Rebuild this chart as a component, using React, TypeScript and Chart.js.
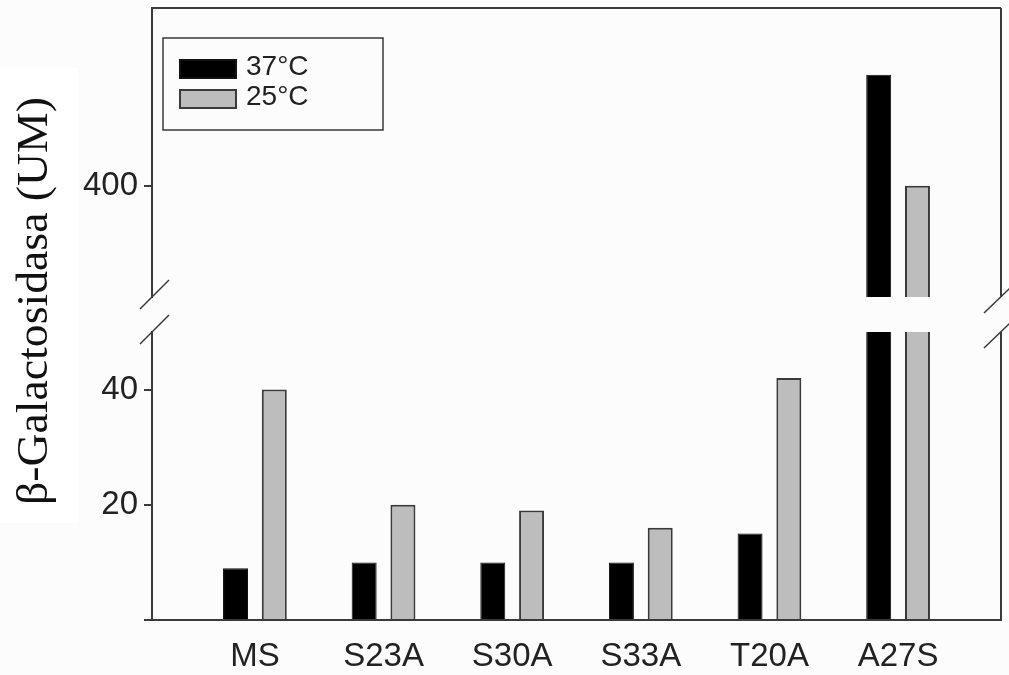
import React, { useEffect, useRef } from 'react';
import { Chart, registerables } from 'chart.js';

Chart.register(...registerables);

// ---- data ----
const categories = ['MS', 'S23A', 'S30A', 'S33A', 'T20A', 'A27S'];
const seriesNames = ['37°C', '25°C'];
const values37 = [9, 10, 10, 10, 15, 600];
const values25 = [40, 20, 19, 16, 42, 400];
const lowerTicks = [0, 20, 40];
const upperTicks = [400];
const lowerRange = [0, 50];
const upperRange = [200, 720];
const yTitle = 'β-Galactosidasa (UM)';

// ---- styles ----
const fills = ['#000000', '#bdbdbd'];
const strokes = ['#111111', '#3a3a3a'];
const axisColor = '#3a3a3a';
const textColor = '#222222';
const fontSans = '"Liberation Sans", Arial, Helvetica, sans-serif';
const fontSerif = '"Liberation Serif", "Times New Roman", serif';

export default function App() {
  const ref = useRef<HTMLCanvasElement | null>(null);

  useEffect(() => {
    document.body.style.margin = '0';
    const canvas = ref.current;
    if (!canvas) return;

    const lowPoints = (vals: number[]) => vals.map((y, x) => ({ x, y }));
    const highPoints = (vals: number[]) =>
      vals.map((y, x) => ({ x, y: y > lowerRange[1] ? y : null }));

    const fixY = (scale: any) => {
      scale.width = 70;
      scale.paddingTop = 0;
      scale.paddingBottom = 0;
    };

    const bgPlugin = {
      id: 'bg',
      beforeDraw(chart: any) {
        const { ctx, width, height } = chart;
        ctx.save();
        ctx.fillStyle = '#fcfcfc';
        ctx.fillRect(0, 0, width, height);
        ctx.fillStyle = '#ffffff';
        ctx.fillRect(0, 68, 78, 455);
        ctx.restore();
      },
    };

    const titlePlugin = {
      id: 'ytitle',
      afterDraw(chart: any) {
        const { ctx } = chart;
        ctx.save();
        ctx.font = `44px ${fontSerif}`;
        ctx.fillStyle = '#111';
        ctx.translate(47, 301);
        ctx.rotate(-Math.PI / 2);
        ctx.textAlign = 'center';
        ctx.textBaseline = 'alphabetic';
        const w = ctx.measureText(yTitle).width;
        ctx.scale(408 / w, 1);
        ctx.fillText(yTitle, 0, 0);
        ctx.restore();
      },
    };

    const legendPlugin = {
      id: 'boxLegend',
      afterDraw(chart: any) {
        const { ctx, chartArea: ca } = chart;
        const x0 = ca.left + 11;
        const y0 = ca.top + 30;
        ctx.save();
        ctx.strokeStyle = axisColor;
        ctx.lineWidth = 1.5;
        ctx.strokeRect(x0, y0, 220, 92);
        seriesNames.forEach((name, i) => {
          const sy = y0 + 22 + i * 30;
          ctx.fillStyle = fills[i];
          ctx.fillRect(x0 + 17, sy, 56, 18);
          ctx.strokeStyle = strokes[i];
          ctx.lineWidth = 2;
          ctx.strokeRect(x0 + 17, sy, 56, 18);
          ctx.font = `28px ${fontSans}`;
          ctx.fillStyle = textColor;
          ctx.textBaseline = 'alphabetic';
          ctx.textAlign = 'left';
          ctx.fillText(name, x0 + 83, sy + 15);
        });
        ctx.restore();
      },
    };

    const framePlugin = {
      id: 'frame',
      afterDraw(chart: any) {
        const { ctx, chartArea: ca, scales } = chart;
        const hi = scales.yHigh;
        const lo = scales.yLow;
        ctx.save();
        ctx.strokeStyle = axisColor;
        ctx.lineWidth = 2;
        ctx.beginPath();
        ctx.moveTo(ca.left, ca.top);
        ctx.lineTo(ca.right, ca.top);
        ctx.moveTo(ca.right, ca.top);
        ctx.lineTo(ca.right, hi.bottom);
        ctx.moveTo(ca.right, lo.top);
        ctx.lineTo(ca.right, ca.bottom);
        ctx.stroke();
        ctx.lineWidth = 1.5;
        ctx.beginPath();
        for (const y of [hi.bottom, lo.top]) {
          ctx.moveTo(ca.left - 12, y + 12);
          ctx.lineTo(ca.left + 17, y - 17);
          ctx.moveTo(ca.right - 17, y + 16);
          ctx.lineTo(ca.right + 9, y - 9);
        }
        ctx.stroke();
        ctx.restore();
      },
    };

    const tickFont = { family: fontSans, size: 33 };
    const yGrid = {
      display: true,
      drawOnChartArea: false,
      drawTicks: true,
      tickLength: 8,
      color: axisColor,
      lineWidth: 2,
    };
    const yBorder = { display: true, color: axisColor, width: 2 };

    const barStyle = (i: number) => ({
      backgroundColor: fills[i],
      borderColor: strokes[i],
      borderWidth: i === 0 ? 1 : 2,
      categoryPercentage: 0.603,
      barPercentage: 0.644,
    });

    const chart = new Chart(canvas, {
      type: 'bar',
      data: {
        datasets: [
          { label: seriesNames[0], data: lowPoints(values37), yAxisID: 'yLow', stack: 's0', ...barStyle(0) },
          { label: seriesNames[1], data: lowPoints(values25), yAxisID: 'yLow', stack: 's1', ...barStyle(1) },
          { label: seriesNames[0], data: highPoints(values37), yAxisID: 'yHigh', stack: 's0', ...barStyle(0) },
          { label: seriesNames[1], data: highPoints(values25), yAxisID: 'yHigh', stack: 's1', ...barStyle(1) },
        ] as any,
      },
      options: {
        responsive: false,
        animation: false,
        devicePixelRatio: 1,
        layout: { padding: { left: 82, top: 8, right: 8, bottom: 0 } },
        plugins: {
          legend: { display: false },
          tooltip: { enabled: false },
          title: { display: false },
        },
        scales: {
          x: {
            type: 'linear',
            position: 'bottom',
            min: -0.8,
            max: 5.8,
            offset: false,
            grid: { display: false, drawTicks: false, offset: false },
            border: { display: true, color: axisColor, width: 2 },
            afterBuildTicks: (s: any) => {
              s.ticks = categories.map((_, i) => ({ value: i }));
            },
            afterFit: (s: any) => {
              s.height = 55;
              s.paddingLeft = 0;
              s.paddingRight = 0;
            },
            ticks: {
              callback: (v: any) => categories[v] ?? '',
              font: tickFont,
              color: textColor,
              padding: 17,
              maxRotation: 0,
              autoSkip: false,
            },
          },
          yHigh: {
            type: 'linear',
            position: 'left',
            stack: 'ybreak',
            stackWeight: 289,
            weight: 3,
            min: upperRange[0],
            max: upperRange[1],
            afterBuildTicks: (s: any) => {
              s.ticks = upperTicks.map((value) => ({ value }));
            },
            afterFit: fixY,
            ticks: { font: tickFont, color: textColor, padding: 6 },
            grid: yGrid,
            border: yBorder,
          },
          yGap: {
            type: 'linear',
            position: 'left',
            stack: 'ybreak',
            stackWeight: 35,
            weight: 2,
            min: 0,
            max: 1,
            afterFit: fixY,
            ticks: { display: false },
            grid: { display: false, drawTicks: false },
            border: { display: false },
          },
          yLow: {
            type: 'linear',
            position: 'left',
            stack: 'ybreak',
            stackWeight: 288,
            weight: 1,
            min: lowerRange[0],
            max: lowerRange[1],
            afterBuildTicks: (s: any) => {
              s.ticks = lowerTicks.map((value) => ({ value }));
            },
            afterFit: fixY,
            ticks: {
              font: tickFont,
              color: textColor,
              padding: 6,
              callback: (v: any) => (v === 0 ? '' : String(v)),
            },
            grid: yGrid,
            border: yBorder,
          },
        } as any,
      },
      plugins: [bgPlugin, titlePlugin, legendPlugin, framePlugin],
    });

    return () => chart.destroy();
  }, []);

  return (
    <canvas
      ref={ref}
      width={1009}
      height={675}
      style={{ display: 'block', width: 1009, height: 675 }}
    />
  );
}
